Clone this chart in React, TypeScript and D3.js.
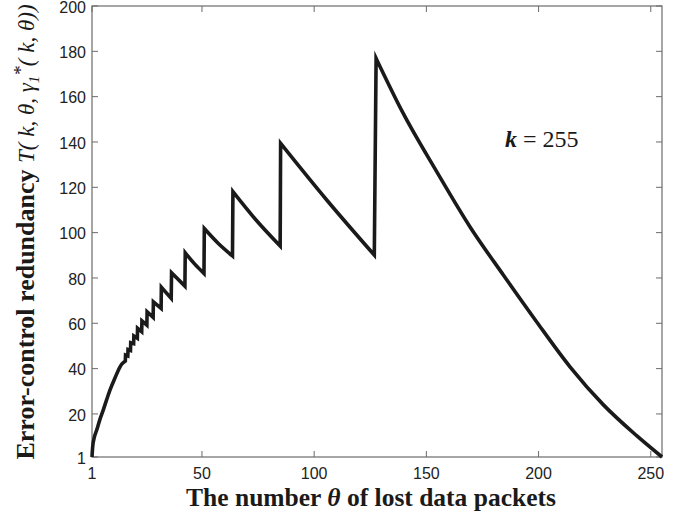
import React from 'react';
import * as d3 from 'd3';

// Number of lost data packets (theta) and the error-control redundancy
const thetaValues = [
  1, 1.3, 2, 3.1, 4.5, 6, 7.5, 9, 11, 13.5, 14.2,
  15.85, 15.95, 16.95, 17.05, 18.15, 18.25, 19.55, 19.65, 21.2, 21.3,
  23.15, 23.25, 25.45, 25.55, 28.25, 28.35, 31.8, 31.9, 36.3, 36.45,
  42.4, 42.55, 46.7, 50.9, 51.05, 57.3, 63.6, 63.8, 74, 84.85, 85.05,
  105.6, 126.8, 127.6, 139.7, 154.6, 169.4, 184.3, 199.1, 214, 228.9, 243.7, 255,
];
const redundancyValues = [
  1, 5.5, 9.5, 12.9, 17.5, 21.7, 26.2, 30.5, 35.3, 40.8, 41.9,
  43.4, 46.0, 45.6, 48.4, 48.0, 51.4, 51.0, 54.4, 53.4, 57.8,
  56.3, 61.1, 59.2, 65.1, 62.6, 69.5, 66.6, 75.9, 71.0, 82.3,
  76.4, 91.1, 86.2, 82.0, 101.8, 95.2, 89.7, 118.1, 105.7, 94.1, 139.4,
  114.4, 90.1, 176.9, 152.6, 126.9, 102.6, 81.3, 60.7, 40.8, 24.0, 10.4, 1,
];
const xTickValues = [1, 50, 100, 150, 200, 250];
const yTickValues = [1, 20, 40, 60, 80, 100, 120, 140, 160, 180, 200];
const xDomain = [1, 255];
const yDomain = [1, 200];
const kValue = 255;

export default function App() {
  const W = 687;
  const H = 516;
  const left = 92, right = 662, top = 6, bottom = 457;
  const x = d3.scaleLinear().domain(xDomain).range([left, right]);
  const y = d3.scaleLinear().domain(yDomain).range([bottom, top]);

  const pts: [number, number][] = thetaValues.map((t, i) => [t, redundancyValues[i]]);
  const segments: [number, number][][] = [];
  let cur: [number, number][] = [pts[0]];
  for (let i = 1; i < pts.length; i++) {
    const dt = pts[i][0] - pts[i - 1][0];
    const dv = pts[i][1] - pts[i - 1][1];
    if (pts[i][0] > 10 && dv > 0 && dv / dt > 5) {
      segments.push(cur);
      cur = [pts[i]];
    } else cur.push(pts[i]);
  }
  segments.push(cur);
  const line = d3
    .line<[number, number]>()
    .x((d) => x(d[0]))
    .y((d) => y(d[1]))
    .curve(d3.curveMonotoneX);
  const pathD = segments
    .map((s, i) => {
      const p = line(s) || '';
      return i === 0 ? p : 'L' + p.slice(1);
    })
    .join('');

  const axisColor = '#6b6b6b';
  const tickLen = 6;
  const sans = '"Liberation Sans", Arial, sans-serif';
  const serif = '"Liberation Serif", "Times New Roman", serif';

  return (
    <svg width={W} height={H} style={{ position: 'absolute', left: 0, top: 0, background: '#fff' }}>
      <rect x={0} y={0} width={W} height={H} fill="#fff" />
      {/* ticks */}
      {xTickValues.map((t) => (
        <g key={'xt' + t}>
          <line x1={x(t)} x2={x(t)} y1={bottom} y2={bottom - tickLen} stroke={axisColor} strokeWidth={1} />
          <line x1={x(t)} x2={x(t)} y1={top} y2={top + tickLen} stroke={axisColor} strokeWidth={1} />
          <text x={x(t)} y={479} textAnchor="middle" fontFamily={sans} fontSize={16} fill="#222">
            {t}
          </text>
        </g>
      ))}
      {yTickValues.map((t) => (
        <g key={'yt' + t}>
          <line x1={left} x2={left + tickLen} y1={y(t)} y2={y(t)} stroke={axisColor} strokeWidth={1} />
          <line x1={right} x2={right - tickLen} y1={y(t)} y2={y(t)} stroke={axisColor} strokeWidth={1} />
          <text x={86} y={y(t)} dy="0.42em" textAnchor="end" fontFamily={sans} fontSize={16} fill="#222">
            {t}
          </text>
        </g>
      ))}
      <rect x={left} y={top} width={right - left} height={bottom - top} fill="none" stroke={axisColor} strokeWidth={1.2} />
      {/* curve */}
      <path d={pathD} fill="none" stroke="#1a1a1a" strokeWidth={3.6} strokeLinejoin="miter" strokeMiterlimit={10} />
      {/* annotation */}
      <text x={505} y={147} fontFamily={serif} fontSize={24} fill="#1a1a1a">
        <tspan fontWeight="bold" fontStyle="italic">k</tspan>
        <tspan> = {kValue}</tspan>
      </text>
      {/* x label */}
      <text x={371} y={506} textAnchor="middle" fontFamily={serif} fontSize={25.5} fontWeight="bold" fill="#1a1a1a">
        The number <tspan fontStyle="italic">θ</tspan> of lost data packets
      </text>
      {/* y label */}
      <text
        transform="translate(34,232) rotate(-90)"
        textAnchor="middle"
        fontFamily={serif}
        fontSize={26}
        fill="#1a1a1a"
      >
        <tspan fontWeight="bold">Error-control redundancy  </tspan>
        <tspan fontStyle="italic" fontSize={23}>T( k, θ, γ</tspan>
        <tspan fontStyle="italic" fontSize={15} dy={5}>1</tspan>
        <tspan fontStyle="italic" fontSize={19} dy={-12}>*</tspan>
        <tspan fontStyle="italic" fontSize={23} dy={7}>( k, θ))</tspan>
      </text>
    </svg>
  );
}
